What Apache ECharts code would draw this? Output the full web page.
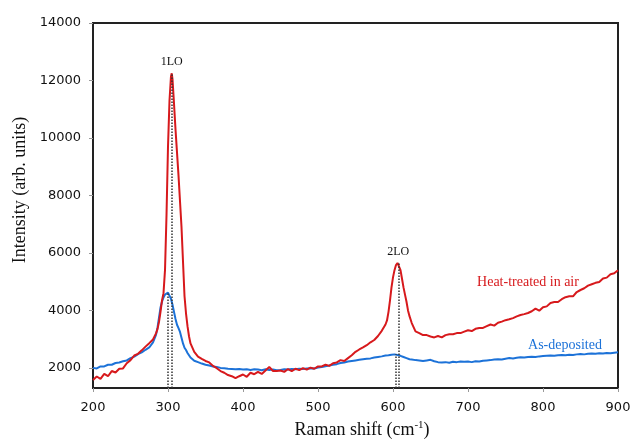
<!DOCTYPE html>
<html>
<head>
<meta charset="utf-8">
<script src="https://cdn.jsdelivr.net/npm/echarts@6/dist/echarts.min.js"></script>
<style>html,body{margin:0;padding:0;background:#fff}#c{width:634px;height:442px}</style>
</head>
<body>
<div id="c"></div>
<script>
// Raman shift (cm-1)
var xs = [200,205,210,215,220,225,230,235,240,245,250,255,260,265,270,275,280,284,
  286,288,290,292,294,296,298,300,302,304,305,306,308,310,312,314,316,318,320,322,324,326,328,330,
  335,340,345,350,355,360,365,370,375,380,385,390,395,400,405,410,415,420,425,430,435,440,445,450,
  455,460,465,470,475,480,485,490,495,500,505,510,515,520,525,530,535,540,545,550,555,560,565,570,
  575,580,585,590,592,594,596,598,600,602,604,606,608,610,612,614,616,618,620,622,625,630,635,640,
  645,650,655,660,665,670,675,680,685,690,695,700,705,710,715,720,725,730,735,740,745,750,755,760,
  765,770,775,780,785,790,795,800,805,810,815,820,825,830,835,840,845,850,855,860,865,870,875,880,
  885,890,895,900];
// Heat-treated in air
var heatTreated = [1580,1700,1620,1790,1710,1890,1840,1970,1980,2160,2270,2430,2490,2610,2740,2860,2990,3200,
  3350,3600,3950,4350,4600,5400,7300,9700,11300,12150,12250,12050,11200,10300,9500,8700,7800,6900,5700,4500,3900,3450,3100,2850,
  2560,2390,2310,2240,2190,2070,1990,1890,1830,1750,1710,1640,1710,1770,1690,1830,1780,1860,1790,1910,2030,1890,1890,1910,
  1860,1960,1890,1970,1920,1990,1940,2010,1970,2050,2050,2110,2070,2160,2190,2270,2240,2340,2440,2560,2640,2710,2790,2890,
  2970,3110,3290,3510,3650,3950,4350,4800,5150,5400,5580,5650,5620,5400,5100,4800,4550,4300,4000,3800,3560,3270,3210,3140,
  3140,3090,3060,3110,3060,3140,3170,3170,3210,3210,3260,3310,3280,3360,3390,3390,3450,3510,3470,3570,3610,3660,3690,3730,
  3790,3840,3870,3910,3970,4060,3990,4110,4140,4260,4290,4290,4390,4460,4490,4490,4640,4710,4770,4860,4910,4960,4990,5110,
  5140,5260,5290,5400];
// As-deposited
var asDeposited = [2000,1980,2050,2050,2110,2110,2170,2190,2230,2260,2340,2390,2480,2540,2630,2710,2890,3150,
  3400,3750,4100,4300,4450,4550,4600,4620,4560,4400,4300,4200,3950,3700,3500,3380,3250,3050,2850,2700,2620,2520,2440,2360,
  2250,2200,2150,2110,2080,2050,2030,2000,1990,1970,1960,1950,1960,1940,1950,1930,1950,1940,1920,1950,1930,1940,1920,1930,
  1950,1940,1960,1950,1970,1960,1980,1990,1980,2010,2030,2060,2080,2110,2130,2170,2190,2220,2240,2260,2280,2300,2320,2330,
  2360,2380,2400,2430,2450,2440,2470,2460,2480,2470,2460,2450,2440,2420,2400,2380,2360,2340,2320,2300,2290,2270,2260,2240,
  2260,2280,2230,2200,2190,2200,2180,2210,2200,2220,2210,2220,2200,2230,2220,2250,2260,2270,2290,2300,2290,2320,2340,2330,
  2350,2370,2360,2380,2390,2380,2400,2410,2420,2430,2420,2440,2450,2440,2460,2450,2470,2480,2470,2490,2500,2490,2510,2500,
  2520,2510,2530,2540];
// Peak markers [shift, intensity]
var heatPeaks = [[305,12250],[607,5650]];
var asPeaks = [[300,4620],[603,2470]];
var peakNames = ['1LO','2LO'];
var yTicks = [2000,4000,6000,8000,10000,12000,14000];
var yMin = 1300, yMax = 14000;

function pairs(v){ return xs.map(function(x,i){ return [x, v[i]]; }); }
function vlines(p){ return p.map(function(d){ return [{coord:[d[0], yMin]},{coord:[d[0], d[1]]}]; }); }
function plain(v){ return String(v); }

var red = '#d7191c', blue = '#1c72d8';
var chart = echarts.init(document.getElementById('c'));
chart.setOption({
  animation:false,
  grid:{left:93,right:16,top:23,bottom:54,show:true,borderColor:'#222',borderWidth:2,backgroundColor:'#fff'},
  xAxis:{type:'value',min:200,max:900,interval:100,
    axisLine:{show:true,onZero:false,lineStyle:{color:'#222',width:2}},
    axisTick:{show:true,length:4,lineStyle:{color:'#999'}},
    axisLabel:{margin:13,color:'#111',fontFamily:'DejaVu Sans',fontSize:13,formatter:plain},
    splitLine:{show:false}},
  yAxis:{type:'value',min:yMin,max:yMax,
    axisLine:{show:true,lineStyle:{color:'#222',width:2}},
    axisTick:{show:true,length:4,customValues:yTicks,lineStyle:{color:'#999'}},
    axisLabel:{margin:12,color:'#111',fontFamily:'DejaVu Sans',fontSize:13,customValues:yTicks,formatter:plain},
    splitLine:{show:false}},
  series:[
    {type:'line',name:'As-deposited',data:pairs(asDeposited),showSymbol:false,z:3,
      lineStyle:{color:blue,width:2},itemStyle:{color:blue},
      markLine:{silent:true,symbol:'none',label:{show:false},
        lineStyle:{type:'dotted',color:'#333',width:1.5},data:vlines(asPeaks)}},
    {type:'line',name:'Heat-treated in air',data:pairs(heatTreated),showSymbol:false,z:4,
      lineStyle:{color:red,width:2},itemStyle:{color:red},
      markLine:{silent:true,symbol:'none',label:{show:false},
        lineStyle:{type:'dotted',color:'#333',width:1.5},data:vlines(heatPeaks)},
      markPoint:{symbol:'circle',symbolSize:0,
        label:{show:true,position:'top',distance:5,color:'#111',fontFamily:'Liberation Serif',fontSize:12,
          formatter:function(p){return p.name;}},
        data:heatPeaks.map(function(d,i){return {name:peakNames[i],coord:d};})}}
  ],
  graphic:[
    {type:'text',x:20,y:190,rotation:Math.PI/2,
      style:{text:'Intensity (arb. units)',fill:'#111',font:'18px "Liberation Serif"',align:'center',verticalAlign:'middle'}},
    {type:'text',x:362,y:430,
      style:{text:'Raman shift (cm{s|-1})',fill:'#111',font:'18px "Liberation Serif"',align:'center',verticalAlign:'middle',
        rich:{s:{fontSize:11,fontFamily:'Liberation Serif',verticalAlign:'top',padding:[0,0,9,0]}}}},
    {type:'text',x:528,y:282,
      style:{text:'Heat-treated in air',fill:red,font:'14px "Liberation Serif"',align:'center',verticalAlign:'middle'}},
    {type:'text',x:565,y:345,
      style:{text:'As-deposited',fill:blue,font:'14px "Liberation Serif"',align:'center',verticalAlign:'middle'}}
  ]
});
</script>
</body>
</html>
